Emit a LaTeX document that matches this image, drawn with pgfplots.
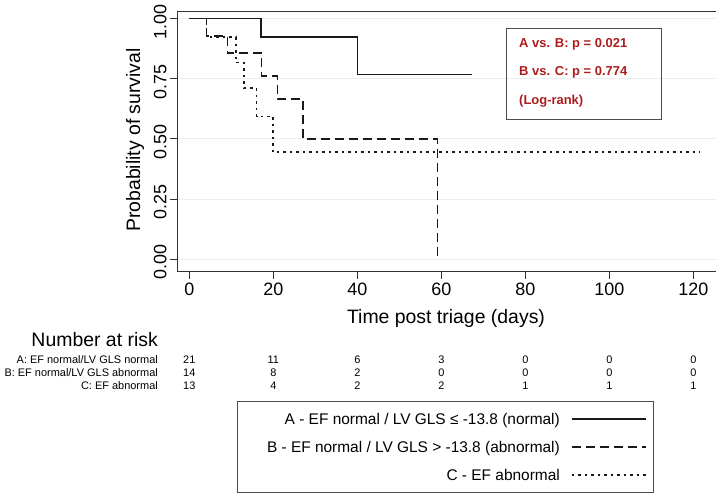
\documentclass[border=0pt]{standalone}
\usepackage{pgfplots}
\pgfplotsset{compat=1.18}
\usepackage{fontspec}
\setmainfont{Liberation Sans}
\definecolor{pred}{RGB}{172,28,28}
\begin{document}
\begin{tikzpicture}
\useasboundingbox (0,0) rectangle (716bp,495bp);
\begin{axis}[
  at={(177bp,223bp)}, anchor=south west,
  scale only axis, width=539bp, height=260bp,
  xmin=-2.93, xmax=125.4, ymin=-0.053, ymax=1.028,
  axis lines*=left,
  axis line style={line width=1bp, black!80},
  xtick={0,20,40,60,80,100,120}, ytick={0,0.25,0.5,0.75,1},
  tick align=outside, major tick length=7bp,
  tick style={line width=1bp, black!80},
  ymajorgrids, grid style={line width=1bp, black!7},
  /pgf/number format/assume math mode=true,
  ticklabel style={font=\fontsize{18}{20}\selectfont},
  yticklabel style={rotate=90, anchor=south, xshift=-3bp, /pgf/number format/.cd, fixed, fixed zerofill, precision=2},
  clip=false,
]
\draw[line width=1bp, black!80] (rel axis cs:0,1) -- (rel axis cs:1,1);
% A
\addplot[const plot, black!90, line width=1.5bp] coordinates {(0,1) (17.1,0.923) (40,0.769) (67.2,0.769)};
% B
\addplot[const plot, black!90, line width=1.5bp, dash pattern=on 9bp off 5bp] coordinates {(0,1) (4.1,0.929) (9.1,0.858) (17.2,0.762) (21,0.667) (27.1,0.5) (59.1,0)};
% C
\addplot[const plot, black!90, line width=1.5bp, dash pattern=on 2.5bp off 4bp] coordinates {(0,1) (4.1,0.923) (11.1,0.817) (13,0.713) (16,0.594) (19.9,0.445) (121.6,0.445)};
\end{axis}
% axis titles
\node[rotate=90, font=\fontsize{19.5}{22}\selectfont] at (135bp,355bp) {Probability of survival};
\node[font=\fontsize{19.5}{22}\selectfont] at (446bp,177bp) {Time post triage (days)};
% stats box
\draw[black!70, line width=0.8bp] (506.7bp,466.7bp) rectangle (661bp,375.7bp);
\begin{scope}[every node/.style={anchor=base west, text=pred, font=\bfseries\fontsize{13}{15}\selectfont, inner sep=0pt}]
\node at (519bp,447.6bp) {A vs. B: p = 0.021};
\node at (519bp,419.3bp) {B vs. C: p = 0.774};
\node at (519bp,390.3bp) {(Log-rank)};
\end{scope}
% number at risk
\node[anchor=base east, inner sep=0pt, font=\fontsize{19.5}{22}\selectfont] at (158bp,148bp) {Number at risk};
\begin{scope}[every node/.style={inner sep=0pt, font=\fontsize{11}{13}\selectfont}]
\node[anchor=base east] at (158bp,131bp) {A: EF normal/LV GLS normal};
\node[anchor=base east] at (158bp,118bp) {B: EF normal/LV GLS abnormal};
\node[anchor=base east] at (158bp,105bp) {C: EF abnormal};
\foreach \t/\a/\b/\c in {0/21/14/13, 20/11/8/4, 40/6/2/2, 60/3/0/2, 80/0/0/1, 100/0/0/1, 120/0/0/1} {
  \pgfmathsetmacro{\xx}{189.3+4.2*\t}
  \node[anchor=base] at (\xx bp,131bp) {\a};
  \node[anchor=base] at (\xx bp,118bp) {\b};
  \node[anchor=base] at (\xx bp,105bp) {\c};
}
\end{scope}
% legend
\draw[black!70, line width=0.8bp] (237bp,94bp) rectangle (653bp,3bp);
\begin{scope}[every node/.style={anchor=base east, inner sep=0pt, font=\fontsize{15.5}{18}\selectfont}]
\node at (560bp,70.4bp) {A - EF normal / LV GLS ≤ -13.8 (normal)};
\node at (560bp,42.4bp) {B - EF normal / LV GLS > -13.8 (abnormal)};
\node at (560bp,14.4bp) {C - EF abnormal};
\end{scope}
\draw[black!90, line width=1.5bp] (571.7bp,76bp) -- (646bp,76bp);
\draw[black!90, line width=1.5bp, dash pattern=on 9bp off 5bp] (571.7bp,48bp) -- (646bp,48bp);
\draw[black!90, line width=1.5bp, dash pattern=on 2.5bp off 4bp] (571.7bp,20bp) -- (646bp,20bp);
\end{tikzpicture}
\end{document}
